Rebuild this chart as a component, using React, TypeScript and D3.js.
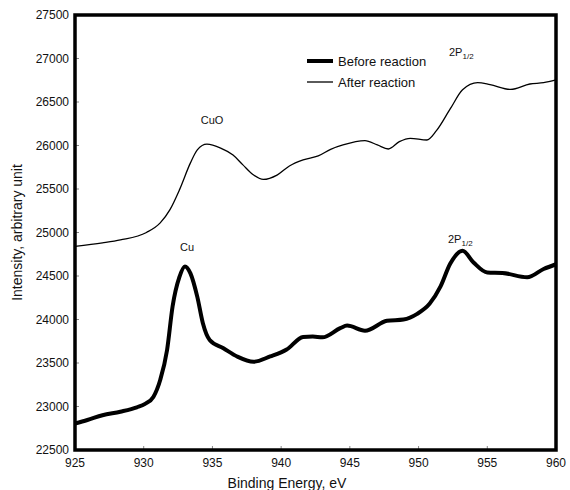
import React from "react";
import * as d3 from "d3";

const xTicks = [925, 930, 935, 940, 945, 950, 955, 960];
const yTicks = [22500, 23000, 23500, 24000, 24500, 25000, 25500, 26000, 26500, 27000, 27500];

const beforeEnergy = [925.0, 925.9, 927.0, 928.3, 929.5, 930.1, 930.7, 931.2, 931.7, 932.1, 932.6, 933.0, 933.4, 933.9, 934.3, 934.8, 935.8, 936.8, 938.0, 939.2, 940.4, 941.6, 942.3, 943.0, 944.3, 944.8, 946.1, 947.7, 948.9, 949.9, 950.8, 951.6, 952.3, 953.2, 954.0, 955.0, 956.1, 957.9, 959.1, 960.0];
const beforeIntensity = [22805, 22845, 22900, 22940, 22990, 23030, 23110, 23305, 23650, 24150, 24490, 24610, 24530, 24260, 23960, 23765, 23670, 23575, 23515, 23575, 23655, 23800, 23805, 23795, 23900, 23930, 23870, 23985, 24000, 24065, 24180, 24380, 24640, 24790, 24655, 24540, 24535, 24485, 24580, 24635];

const afterEnergy = [925.0, 927.0, 928.3, 930.2, 931.2, 931.9, 932.6, 933.4, 933.9, 934.6, 935.6, 936.5, 937.2, 938.0, 938.7, 939.7, 940.6, 941.6, 942.7, 943.6, 944.5, 946.1, 947.0, 947.8, 948.6, 949.4, 950.6, 951.3, 952.3, 953.2, 954.3, 955.2, 956.7, 958.1, 959.1, 960.0];
const afterIntensity = [24840, 24880, 24914, 25000, 25110, 25260, 25490, 25800, 25950, 26015, 25970, 25890, 25780, 25660, 25610, 25660, 25765, 25835, 25880, 25956, 26006, 26055, 26006, 25960, 26044, 26083, 26063, 26170, 26420, 26640, 26722, 26700, 26645, 26707, 26722, 26753];

const seriesNames = ["Before reaction", "After reaction"];

export default function App() {
  const left = 75, right = 556, top = 15, bottom = 450;
  const x = d3.scaleLinear().domain([925, 960]).range([left, right]);
  const y = d3.scaleLinear().domain([22500, 27500]).range([bottom, top]);

  const mk = (es: number[], vs: number[]) =>
    d3
      .line<number>()
      .x((_, i) => x(es[i]))
      .y((_, i) => y(vs[i]))
      .curve(d3.curveMonotoneX)(vs) as string;

  const font = "'Liberation Sans', Arial, sans-serif";

  return (
    <svg width={570} height={490} style={{ position: "absolute", left: 0, top: 0, background: "#fff" }} fontFamily={font}>
      <rect x={0} y={0} width={570} height={490} fill="#fff" />
      {xTicks.map((t) => (
        <line key={"xt" + t} x1={x(t)} x2={x(t)} y1={bottom} y2={bottom - 4} stroke="#888" strokeWidth={1} />
      ))}
      {yTicks.map((t) => (
        <line key={"yt" + t} x1={left} x2={left + 4} y1={y(t)} y2={y(t)} stroke="#888" strokeWidth={1} />
      ))}
      <path d={mk(afterEnergy, afterIntensity)} fill="none" stroke="#000" strokeWidth={1.3} />
      <path d={mk(beforeEnergy, beforeIntensity)} fill="none" stroke="#000" strokeWidth={4} strokeLinejoin="round" />
      <rect x={left} y={top} width={right - left} height={bottom - top} fill="none" stroke="#000" strokeWidth={3.5} />
      {xTicks.map((t) => (
        <text key={"xl" + t} x={x(t)} y={467} fontSize={12} textAnchor="middle" fill="#111">
          {t}
        </text>
      ))}
      {yTicks.map((t) => (
        <text key={"yl" + t} x={69} y={y(t) + 4} fontSize={12} textAnchor="end" fill="#111">
          {t}
        </text>
      ))}
      <text x={287} y={488} fontSize={14} textAnchor="middle" fill="#111">
        Binding Energy, eV
      </text>
      <text transform={`translate(22,${(top + bottom) / 2}) rotate(-90)`} fontSize={14} textAnchor="middle" fill="#111">
        Intensity, arbitrary unit
      </text>
      <line x1={307} x2={333} y1={61} y2={61} stroke="#000" strokeWidth={4} />
      <text x={338} y={66} fontSize={13} fill="#111">{seriesNames[0]}</text>
      <line x1={307} x2={333} y1={82} y2={82} stroke="#000" strokeWidth={1.3} />
      <text x={338} y={87} fontSize={13} fill="#111">{seriesNames[1]}</text>
      <text x={212} y={124} fontSize={11} textAnchor="middle" fill="#111">CuO</text>
      <text x={187} y={251} fontSize={11} textAnchor="middle" fill="#111">Cu</text>
      <text x={449} y={56} fontSize={11} fill="#111">
        2P<tspan fontSize={8} dy={3}>1/2</tspan>
      </text>
      <text x={448} y={243} fontSize={11} fill="#111">
        2P<tspan fontSize={8} dy={3}>1/2</tspan>
      </text>
    </svg>
  );
}
